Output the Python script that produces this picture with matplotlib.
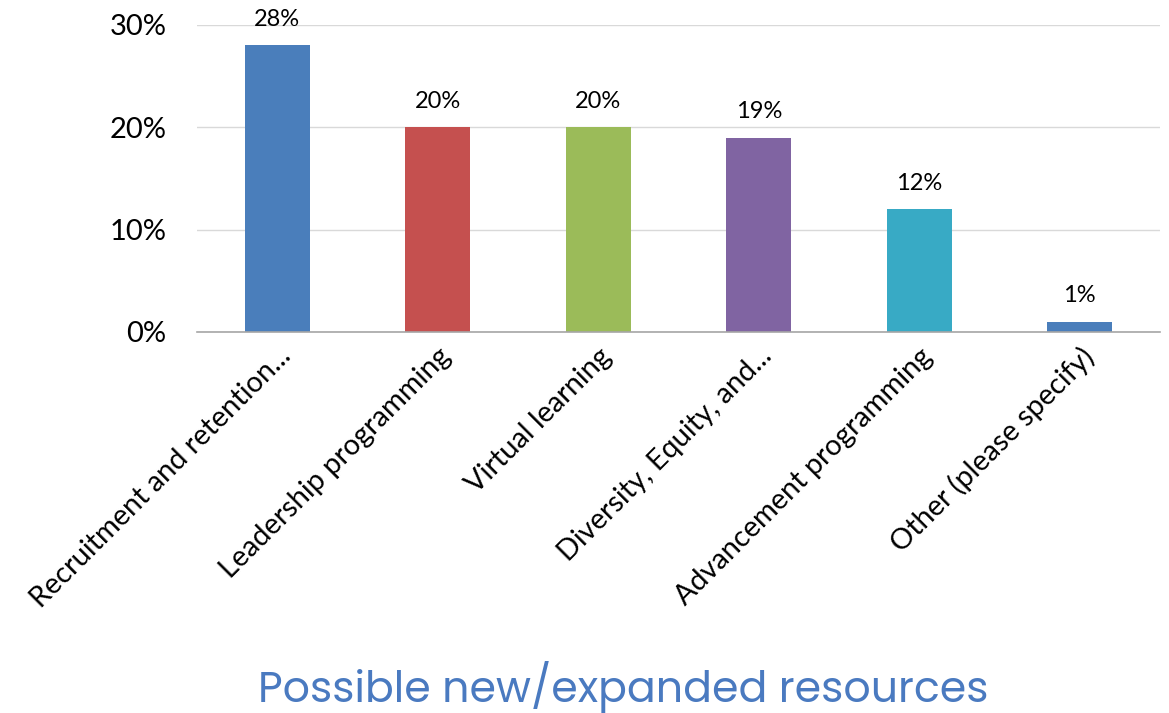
import matplotlib.pyplot as plt
from matplotlib.ticker import PercentFormatter

categories = [
    "Recruitment and retention...",
    "Leadership programming",
    "Virtual learning",
    "Diversity, Equity, and...",
    "Advancement programming",
    "Other (please specify)",
]
shares = [0.28, 0.20, 0.20, 0.19, 0.12, 0.01]
bar_colors = ["#4a7ebb", "#c5504f", "#9bbb59", "#8064a2", "#38aac5", "#4a7ebb"]
y_ticks = [0.0, 0.10, 0.20, 0.30]


def main() -> None:
    plt.rcParams["font.family"] = ["Lato", "DejaVu Sans"]

    fig = plt.figure(figsize=(11.69, 7.13), dpi=100)
    ax = fig.add_axes([0.1685, 0.5344, 0.8238, 0.4306])

    x = range(len(categories))
    bars = ax.bar(x, shares, width=0.405, color=bar_colors, zorder=2)

    for bar, val in zip(bars, shares):
        ax.annotate(f"{val:.0%}",
                    (bar.get_x() + bar.get_width() / 2, val),
                    xytext=(0, 11), textcoords="offset points",
                    ha="center", va="bottom", fontsize=17, color="#000000")

    ax.set_xlim(-0.5, len(categories) - 0.5)
    ax.set_ylim(0, 0.30)
    ax.set_yticks(y_ticks)
    ax.yaxis.set_major_formatter(PercentFormatter(1.0, decimals=0))
    ax.tick_params(axis="y", length=0, labelsize=21, pad=22)
    ax.tick_params(axis="x", length=0, pad=8)

    ax.set_xticks(list(x))
    ax.set_xticklabels(categories, rotation=45, ha="right",
                       rotation_mode="anchor", fontsize=20.8)

    ax.grid(axis="y", color="#d9d9d9", linewidth=1, zorder=0)
    for side in ("top", "right", "left"):
        ax.spines[side].set_visible(False)
    ax.spines["bottom"].set_color("#a6a6a6")
    ax.spines["bottom"].set_linewidth(1.2)
    ax.spines["bottom"].set_zorder(3)

    fig.text(0.533, 0.0, "Possible new/expanded resources",
             ha="center", va="bottom", fontsize=30.7, color="#4a7ac0",
             family=["Poppins", "Inter", "DejaVu Sans"])

    fig.savefig("out.png", dpi=100)


if __name__ == "__main__":
    main()
